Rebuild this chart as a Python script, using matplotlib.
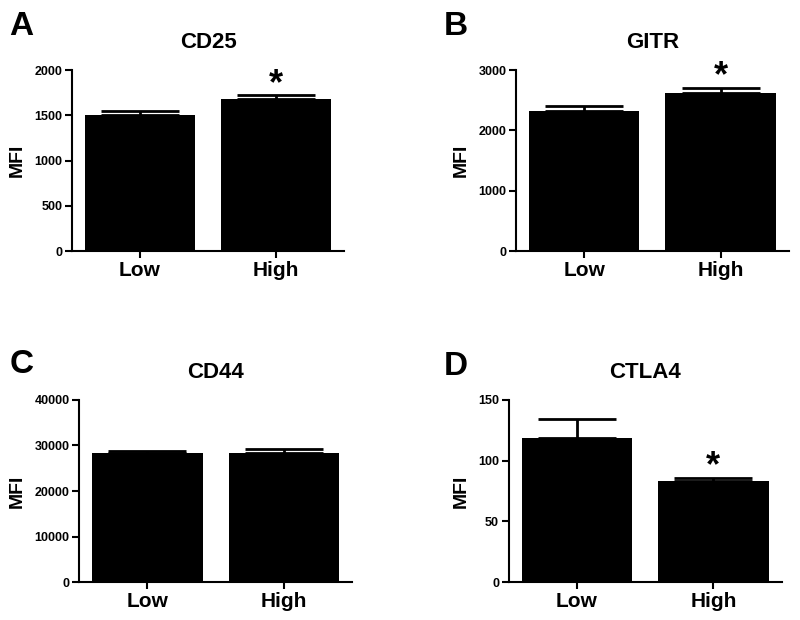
import matplotlib
matplotlib.use("Agg")
import matplotlib.pyplot as plt

plt.rcParams['font.family'] = ['Liberation Sans', 'DejaVu Sans']
plt.rcParams['font.weight'] = 'bold'

groups = ["Low", "High"]

cd25_mean = [1500, 1680]
cd25_err = [45, 40]

gitr_mean = [2320, 2615]
gitr_err = [80, 95]

cd44_mean = [28300, 28300]
cd44_err = [450, 900]

ctla4_mean = [119, 83]
ctla4_err = [15, 2.5]

panels = [
    # letter, title, means, errs, ymax, ystep, star index, axes rect, letter pos
    ("A", "CD25", cd25_mean, cd25_err, 2000, 500, 1, [0.090, 0.595, 0.340, 0.292], (0.012, 0.944)),
    ("B", "GITR", gitr_mean, gitr_err, 3000, 1000, 1, [0.645, 0.595, 0.341, 0.292], (0.555, 0.944)),
    ("C", "CD44", cd44_mean, cd44_err, 40000, 10000, None, [0.099, 0.061, 0.341, 0.294], (0.012, 0.398)),
    ("D", "CTLA4", ctla4_mean, ctla4_err, 150, 50, 1, [0.636, 0.061, 0.341, 0.294], (0.555, 0.395)),
]

fig = plt.figure(figsize=(8, 6.2), dpi=100)

for letter, title, means, errs, ymax, ystep, star, rect, lpos in panels:
    ax = fig.add_axes(rect)
    x = list(range(len(groups)))
    ax.bar(x, means, width=0.81, color="black", zorder=2)
    ax.errorbar(x, means, yerr=[[0] * len(errs), errs], fmt="none", ecolor="black",
                elinewidth=2, capsize=28, capthick=2, zorder=1)
    ax.set_xlim(-0.5, 1.5)
    ax.set_ylim(0, ymax)
    ax.set_yticks(range(0, ymax + 1, ystep))
    ax.set_xticks(x)
    ax.set_xticklabels(groups, fontsize=15, fontweight="bold")
    for lab in ax.get_yticklabels():
        lab.set_fontsize(9)
        lab.set_fontweight("bold")
    ax.spines["top"].set_visible(False)
    ax.spines["right"].set_visible(False)
    ax.spines["left"].set_linewidth(1.5)
    ax.spines["bottom"].set_linewidth(1.5)
    ax.tick_params(axis="both", width=1.5, length=5, pad=2)
    ax.set_ylabel("MFI", fontsize=14, fontweight="bold", labelpad=6)
    ax.set_title(title, fontsize=16, fontweight="bold", pad=16)
    if star is not None:
        ax.annotate("*", (star, means[star] + errs[star]), xytext=(0, 8),
                    textcoords="offset points", ha="center", va="center",
                    fontsize=26, fontweight="bold")
    fig.text(lpos[0], lpos[1], letter, fontsize=24, fontweight="bold",
             ha="left", va="baseline")

fig.savefig("out.png", dpi=100)
